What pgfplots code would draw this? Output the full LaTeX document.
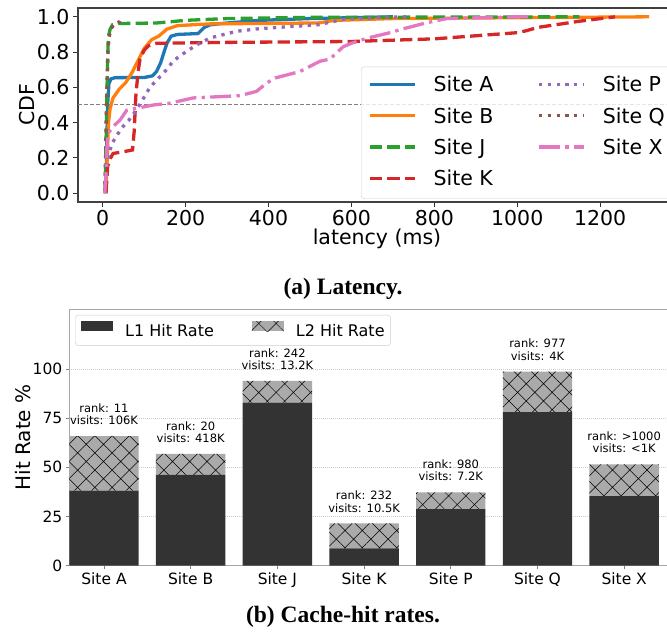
\documentclass[border=0pt]{standalone}
\usepackage{fontspec}
\setmainfont{DejaVu Sans}
\newfontfamily\capfont{Liberation Serif}
\usepackage{pgfplots}
\pgfplotsset{compat=1.18}
\usetikzlibrary{patterns.meta}
\definecolor{tabblue}{HTML}{1F77B4}
\definecolor{taborange}{HTML}{FF7F0E}
\definecolor{tabgreen}{HTML}{2CA02C}
\definecolor{tabred}{HTML}{D62728}
\definecolor{tabpurple}{HTML}{9467BD}
\definecolor{tabbrown}{HTML}{8C564B}
\definecolor{tabpink}{HTML}{E377C2}
\definecolor{lonegray}{HTML}{333333}
\definecolor{ltwogray}{HTML}{AAAAAA}
\tikzset{
  sA/.style={tabblue, line width=3.3pt},
  sB/.style={taborange, line width=3.3pt},
  sJ/.style={tabgreen, line width=3.3pt, dash pattern=on 12.2pt off 5.3pt},
  sK/.style={tabred, line width=3.3pt, dash pattern=on 12.2pt off 5.3pt},
  sP/.style={tabpurple, line width=3.3pt, dash pattern=on 3.3pt off 5.4pt},
  sQ/.style={tabbrown, line width=3.3pt, dash pattern=on 3.3pt off 5.4pt},
  sX/.style={tabpink, line width=3.3pt, dash pattern=on 21pt off 5.3pt on 3.3pt off 5.3pt},
  ann/.style={anchor=south, align=center, font=\fontsize{11.5}{12.4}\selectfont, inner sep=0pt, yshift=11pt},
}
\pgfplotsset{barleg/.style={legend image code/.code={\path[sharp corners,##1,draw=none] (0pt,1pt) rectangle (32pt,11pt);}}}
\begin{document}
\begin{tikzpicture}[x=1pt,y=1pt]
\begin{axis}[
  at={(78pt,432pt)}, anchor=south west, width=598pt, height=194pt, scale only axis,
  xmin=-59.5, xmax=1383, ymin=-0.05, ymax=1.05,
  xtick={0,200,400,600,800,1000,1200}, ytick={0,0.2,0.4,0.6,0.8,1},
  tick pos=left, tick align=outside, major tick length=5pt,
  tick style={black!80, line width=1pt},
  axis line style={black!75, line width=1.1pt},
  tick label style={font=\fontsize{20.5}{24}\selectfont},
  /pgf/number format/assume math mode=true,
  /pgf/number format/1000 sep={},
  yticklabel style={/pgf/number format/.cd, fixed, fixed zerofill, precision=1},
  xlabel={latency (ms)}, ylabel={CDF},
  label style={font=\fontsize{20.5}{24}\selectfont},
  xlabel style={at={(axis description cs:0.5,-0.191)}, anchor=center},
  ylabel style={at={(axis description cs:-0.086,0.5)}, anchor=center},
  legend columns=2,
  legend style={at={(axis description cs:0.9933,0.0155)}, anchor=south east,
     draw=black!20, rounded corners=3pt, fill=white, fill opacity=0.8, text opacity=1,
     font=\fontsize{20.5}{24}\selectfont, inner xsep=7pt, inner ysep=9pt,
     row sep=11.3pt,
     nodes={inner sep=0pt, text height=16pt, text depth=4pt},
     /tikz/every odd column/.append style={column sep=17pt},
     /tikz/every even column/.append style={column sep=44pt}},
  legend cell align=left,
  legend image code/.code={\draw[#1] (0pt,1.5pt) -- (45pt,1.5pt);},
]
\addplot[forget plot, color=black!50, line width=1pt, dash pattern=on 4pt off 2pt] coordinates {(-59.5,0.5) (1383,0.5)};
\addplot[forget plot, sA] coordinates {(8,0) (10,0.3) (12,0.5) (15,0.62) (20,0.648) (30,0.655) (100,0.656) (120,0.665) (130,0.69) (140,0.74) (148,0.8) (155,0.85) (165,0.89) (180,0.9) (230,0.905) (245,0.94) (260,0.955) (300,0.965) (380,0.98) (500,0.99) (700,1.0)};
\addplot[forget plot, sB] coordinates {(8,0) (11,0.2) (14,0.4) (18,0.48) (25,0.54) (40,0.59) (55,0.625) (70,0.68) (85,0.75) (100,0.82) (118,0.87) (135,0.89) (155,0.93) (180,0.95) (260,0.96) (520,0.965) (560,0.98) (700,0.99) (1000,0.995) (1318,1.0)};
\addplot[forget plot, sJ] coordinates {(5,0) (7,0.15) (9,0.4) (11,0.65) (13,0.85) (15,0.9) (18,0.93) (24,0.955) (40,0.962) (130,0.965) (200,0.98) (300,0.99) (500,0.997) (1150,1.0)};
\addplot[forget plot, sK] coordinates {(8,0) (12,0.15) (17,0.19) (25,0.225) (50,0.235) (72,0.245) (76,0.35) (80,0.55) (85,0.68) (90,0.76) (100,0.81) (110,0.835) (130,0.85) (300,0.855) (600,0.86) (800,0.875) (1000,0.91) (1020,0.92) (1050,0.94) (1150,0.975) (1236,1.0)};
\addplot[forget plot, sP] coordinates {(6,0) (8,0.1) (11,0.17) (15,0.22) (22,0.28) (35,0.33) (46,0.37) (62,0.41) (78,0.46) (94,0.52) (114,0.6) (134,0.65) (158,0.71) (170,0.75) (203,0.805) (230,0.845) (259,0.88) (323,0.918) (379,0.933) (520,0.955) (580,0.985) (690,0.998) (740,1.0)};
\addplot[forget plot, sQ] coordinates {(5,0) (7,0.2) (9,0.5) (12,0.75) (15,0.88) (20,0.93) (28,0.96) (40,0.97) (45,0.99) (50,1.0)};
\addplot[forget plot, sX] coordinates {(5,0) (8,0.1) (10,0.25) (13,0.34) (20,0.36) (26,0.38) (42,0.415) (58,0.47) (90,0.485) (122,0.5) (162,0.51) (218,0.54) (331,0.553) (371,0.577) (396,0.625) (416,0.653) (476,0.69) (524,0.748) (548,0.76) (580,0.83) (600,0.85) (640,0.88) (693,0.91) (733,0.937) (781,0.966) (830,0.99) (1000,1.0) (1030,1.0)};
\addlegendimage{sA}\addlegendentry{Site A}
\addlegendimage{sP}\addlegendentry{Site P}
\addlegendimage{sB}\addlegendentry{Site B}
\addlegendimage{sQ}\addlegendentry{Site Q}
\addlegendimage{sJ}\addlegendentry{Site J}
\addlegendimage{sX}\addlegendentry{Site X}
\addlegendimage{sK}\addlegendentry{Site K}
\end{axis}

\begin{axis}[
  at={(69.3pt,68.3pt)}, anchor=south west, width=606.9pt, height=256.4pt, scale only axis,
  xmin=-0.4, xmax=6.6, ymin=0, ymax=130.3,
  ybar stacked, bar width=0.8,
  xtick={0,1,2,3,4,5,6}, xticklabels={Site A,Site B,Site J,Site K,Site P,Site Q,Site X},
  ytick={0,25,50,75,100},
  ymajorgrids, grid style={black!20, line width=0.6pt, dash pattern=on 1pt off 1pt},
  tick pos=left, tick align=outside, major tick length=3.5pt,
  tick style={black!50, line width=0.8pt},
  axis line style={black!35, line width=0.9pt},
  tick label style={font=\fontsize{15.5}{18}\selectfont},
  /pgf/number format/assume math mode=true,
  ylabel={Hit Rate \%},
  ylabel style={at={(axis description cs:-0.0761,0.5)}, anchor=center, font=\fontsize{20}{24}\selectfont},
  legend columns=2,
  legend style={at={(axis description cs:0.0094,0.9778)}, anchor=north west,
     draw=black!20, rounded corners=3pt, fill=white,
     font=\fontsize{16}{19}\selectfont, inner xsep=6pt, inner ysep=6pt,
     nodes={inner sep=0pt, text height=12pt, text depth=3pt},
     /tikz/every odd column/.append style={column sep=12pt},
     /tikz/every even column/.append style={column sep=38pt}},
  legend cell align=left,
]
\addplot[fill=lonegray, draw=none, barleg] coordinates {(0,38.1) (1,46.1) (2,82.9) (3,8.8) (4,28.7) (5,78.1) (6,35.4)};
\addlegendentry{L1 Hit Rate}
\addplot[fill=ltwogray, draw=none, postaction={pattern={Hatch[angle=45,distance=12.2pt,line width=0.5pt]}, pattern color=black}, barleg] coordinates {(0,27.8) (1,10.7) (2,11.0) (3,12.7) (4,8.6) (5,20.5) (6,16.1)};
\addlegendentry{L2 Hit Rate}
\node[ann] at (axis cs:0,65.9) {rank: 11\\visits: 106K};
\node[ann] at (axis cs:1,56.8) {rank: 20\\visits: 418K};
\node[ann] at (axis cs:2,93.9) {rank: 242\\visits: 13.2K};
\node[ann] at (axis cs:3,21.5) {rank: 232\\visits: 10.5K};
\node[ann] at (axis cs:4,37.3) {rank: 980\\visits: 7.2K};
\node[ann] at (axis cs:5,98.6) {rank: 977\\visits: 4K};
\node[ann] at (axis cs:6,51.5) {rank: >1000\\visits: <1K};
\end{axis}

\node[font=\capfont\bfseries\fontsize{23.5}{28}\selectfont] at (343pt,345pt) {(a) Latency.};
\node[font=\capfont\bfseries\fontsize{23.5}{28}\selectfont] at (343pt,17pt) {(b) Cache-hit rates.};
\pgfresetboundingbox
\useasboundingbox (0pt,0pt) rectangle (667pt,634pt);
\end{tikzpicture}
\end{document}
